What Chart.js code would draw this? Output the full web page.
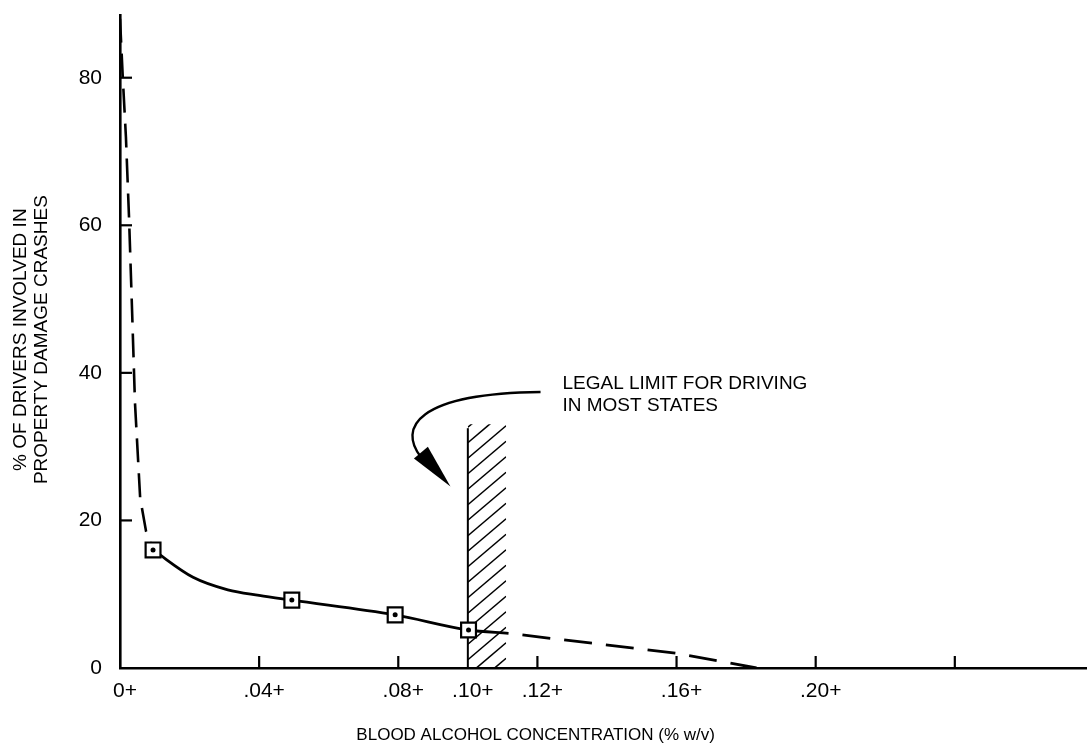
<!DOCTYPE html>
<html>
<head>
<meta charset="utf-8">
<script src="https://cdn.jsdelivr.net/npm/chart.js@4/dist/chart.umd.min.js"></script>
<style>
  html, body { margin: 0; padding: 0; background: #fff; overflow: hidden; }
  canvas { display: block; }
</style>
</head>
<body>
<canvas id="chart" width="1087" height="745"></canvas>
<script>
// tick values and labels
const xTickValues = [0, 0.04, 0.08, 0.10, 0.12, 0.16, 0.20];
const xTickLabels = ['0+', '.04+', '.08+', '.10+', '.12+', '.16+', '.20+'];
const xTickMarks = [0.04, 0.08, 0.12, 0.16, 0.20, 0.24];
const yTickValues = [0, 20, 40, 60, 80];
const yTickMarks = [20, 40, 60, 80];

// dashed steep part near zero BAC
const headBAC = [0, 0.0008, 0.0017, 0.0026, 0.0035, 0.0043, 0.0058, 0.0075, 0.0095];
const headPct = [88, 80, 72, 61, 48, 36, 23, 18.5, 16];

// solid curve through the measured points
const bodyBAC = [0.0095, 0.021, 0.031, 0.04, 0.0494, 0.0791, 0.1002, 0.1117];
const bodyPct = [16, 12.3, 10.6, 9.85, 9.2, 7.2, 5.15, 4.7];

// dashed tail beyond the legal limit
const tailBAC = [0.1117, 0.16, 0.183];
const tailPct = [4.7, 2.0, 0];

// the plotted points (squares)
const pointBAC = [0.0095, 0.0494, 0.0791, 0.1002];
const pointPct = [16, 9.2, 7.2, 5.15];

// legal limit band
const limitFrom = 0.10;
const limitTo = 0.111;
const limitTop = 32.5;

const toXY = (xs, ys) => xs.map((x, i) => ({ x: x, y: ys[i] }));

const FONT = '"Liberation Sans", Arial, Helvetica, sans-serif';

const noPad = s => { s.paddingLeft = 0; s.paddingRight = 0; s.paddingTop = 0; s.paddingBottom = 0; };

const extras = {
  id: 'extras',
  beforeDatasetsDraw(chart) {
    const { ctx, scales: { x, y } } = chart;
    const l = x.getPixelForValue(limitFrom);
    const r = x.getPixelForValue(limitTo);
    const t = y.getPixelForValue(limitTop);
    const b = y.getPixelForValue(0);
    ctx.save();
    ctx.beginPath();
    ctx.rect(l, t - 4, r - l, b - t + 4);
    ctx.clip();
    ctx.strokeStyle = '#000';
    ctx.lineWidth = 1.6;
    const w = r - l;
    for (let yy = b + w; yy > t - 2; yy -= 15.5) {
      ctx.beginPath();
      ctx.moveTo(l, yy);
      ctx.lineTo(r, yy - w * 0.85);
      ctx.stroke();
    }
    ctx.restore();
    ctx.save();
    ctx.strokeStyle = '#000';
    ctx.lineWidth = 2;
    ctx.beginPath();
    ctx.moveTo(l, b);
    ctx.lineTo(l, t);
    ctx.stroke();
    ctx.restore();
  },
  afterDraw(chart) {
    const { ctx, scales: { x, y } } = chart;
    const b = y.getPixelForValue(0);
    const left = x.getPixelForValue(0);
    ctx.save();
    ctx.strokeStyle = '#000';
    ctx.lineWidth = 2.2;
    xTickMarks.forEach(v => {
      const px = x.getPixelForValue(v);
      ctx.beginPath();
      ctx.moveTo(px, b);
      ctx.lineTo(px, b - 12);
      ctx.stroke();
    });
    yTickMarks.forEach(v => {
      const py = y.getPixelForValue(v);
      ctx.beginPath();
      ctx.moveTo(left, py);
      ctx.lineTo(left + 12, py);
      ctx.stroke();
    });

    // annotation text
    ctx.fillStyle = '#000';
    ctx.font = '19px ' + FONT;
    ctx.textAlign = 'left';
    ctx.textBaseline = 'middle';
    const tx = x.getPixelForValue(0.1272);
    ctx.fillText('LEGAL LIMIT FOR DRIVING', tx, y.getPixelForValue(38.5));
    ctx.fillText('IN MOST STATES', tx, y.getPixelForValue(35.5));

    // curved arrow
    const P = (bx, py) => [x.getPixelForValue(bx), y.getPixelForValue(py)];
    const p0 = P(0.1209, 37.4), c1 = P(0.085, 37.2), c2 = P(0.080, 32.5), p3 = P(0.0865, 28.6);
    ctx.lineWidth = 2.4;
    ctx.beginPath();
    ctx.moveTo(p0[0], p0[1]);
    ctx.bezierCurveTo(c1[0], c1[1], c2[0], c2[1], p3[0], p3[1]);
    ctx.stroke();
    const tip = P(0.095, 24.6), a1 = P(0.0845, 28.4), a2 = P(0.0885, 30.0);
    ctx.beginPath();
    ctx.moveTo(tip[0], tip[1]);
    ctx.lineTo(a1[0], a1[1]);
    ctx.lineTo(a2[0], a2[1]);
    ctx.closePath();
    ctx.fill();

    // axis titles
    ctx.font = '17px ' + FONT;
    ctx.textAlign = 'center';
    ctx.fillText('BLOOD ALCOHOL CONCENTRATION (% w/v)', x.getPixelForValue(0.1195), 735);
    ctx.translate(0, y.getPixelForValue(44.5));
    ctx.rotate(-Math.PI / 2);
    ctx.font = '19px ' + FONT;
    ctx.fillText('% OF DRIVERS INVOLVED IN', 0, 21);
    ctx.fillText('PROPERTY DAMAGE CRASHES', 0, 42);
    ctx.restore();
  }
};

new Chart(document.getElementById('chart'), {
  type: 'scatter',
  data: {
    datasets: [
      {
        label: 'dots',
        data: toXY(pointBAC, pointPct),
        pointStyle: 'circle',
        pointRadius: 2.5,
        pointBackgroundColor: '#000',
        pointBorderWidth: 0,
        showLine: false
      },
      {
        label: 'points',
        data: toXY(pointBAC, pointPct),
        pointStyle: 'rect',
        pointRadius: 10.5,
        pointBackgroundColor: '#fff',
        pointBorderColor: '#000',
        pointBorderWidth: 2.2,
        showLine: false
      },
      {
        label: 'head',
        data: toXY(headBAC, headPct),
        showLine: true,
        borderColor: '#000',
        borderWidth: 2.6,
        borderDash: [24, 11],
        pointRadius: 0,
        tension: 0
      },
      {
        label: 'body',
        data: toXY(bodyBAC, bodyPct),
        showLine: true,
        borderColor: '#000',
        borderWidth: 2.8,
        pointRadius: 0,
        cubicInterpolationMode: 'monotone'
      },
      {
        label: 'tail',
        data: toXY(tailBAC, tailPct),
        showLine: true,
        borderColor: '#000',
        borderWidth: 2.8,
        borderDash: [28, 14],
        borderDashOffset: 28,
        pointRadius: 0,
        tension: 0
      }
    ]
  },
  options: {
    responsive: false,
    animation: false,
    layout: { autoPadding: false, padding: { top: 15, right: 0, left: 0, bottom: 0 } },
    plugins: {
      legend: { display: false },
      tooltip: { enabled: false }
    },
    scales: {
      x: {
        type: 'linear',
        min: 0,
        max: 0.278,
        grid: { display: false, drawTicks: false },
        border: { display: true, color: '#000', width: 2.6 },
        afterBuildTicks: s => { s.ticks = xTickValues.map(v => ({ value: v })); },
        afterFit: s => { s.height = 77; noPad(s); },
        ticks: {
          padding: 11,
          labelOffset: 5,
          color: '#000',
          maxRotation: 0,
          autoSkip: false,
          font: { family: FONT, size: 21 },
          callback: (v, i) => xTickLabels[i]
        }
      },
      y: {
        min: 0,
        max: 88.5,
        grid: { display: false, drawTicks: false },
        border: { display: true, color: '#000', width: 2.6 },
        afterBuildTicks: s => { s.ticks = yTickValues.map(v => ({ value: v })); },
        afterFit: s => { s.width = 120; noPad(s); },
        ticks: {
          padding: 18,
          color: '#000',
          font: { family: FONT, size: 21 },
          callback: v => String(v)
        }
      }
    }
  },
  plugins: [extras]
});
</script>
</body>
</html>
